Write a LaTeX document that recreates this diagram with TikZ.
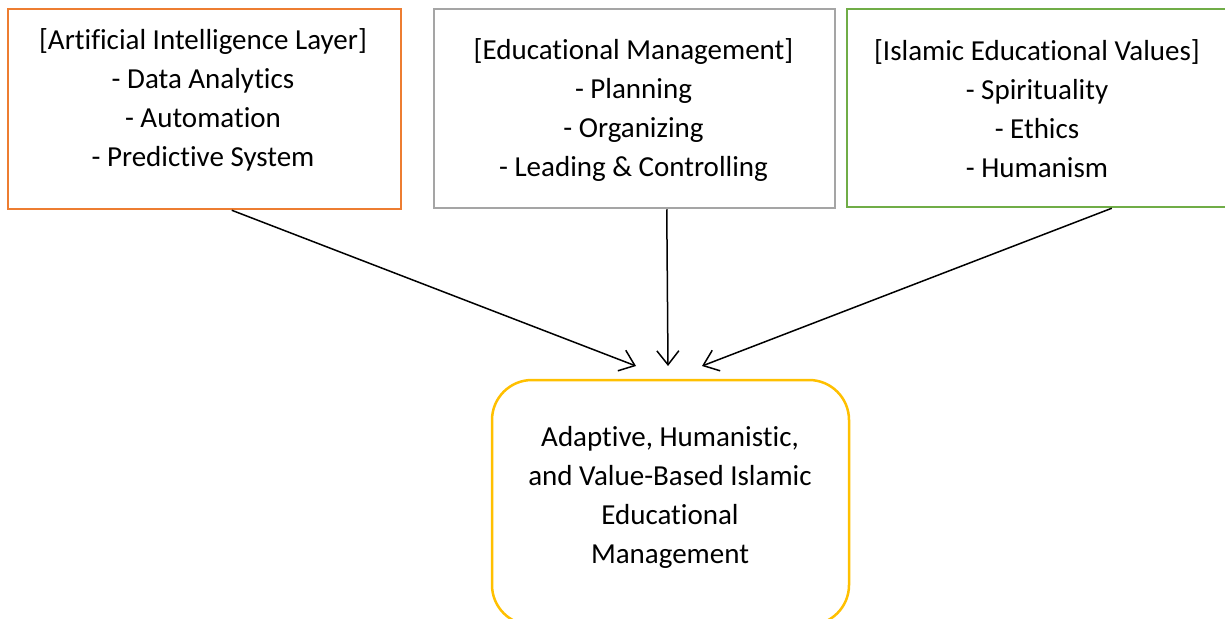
\documentclass[tikz,border=0pt]{standalone}
\usepackage{fontspec}
\setmainfont{Carlito}[Ligatures={NoCommon,NoRequired,NoContextual}]
\usetikzlibrary{arrows.meta,calc}
\definecolor{aiorange}{HTML}{ED7D31}
\definecolor{mggray}{HTML}{A5A5A5}
\definecolor{valgreen}{HTML}{70AD47}
\definecolor{resyellow}{HTML}{FFC000}
\begin{document}
\begin{tikzpicture}[x=1pt,y=-1pt,
  panel/.style={draw=#1,line width=2.5pt,inner sep=0pt},
  txt/.style={align=center,inner sep=0pt,font=\fontsize{29}{39}\selectfont},
  flow/.style={line width=1.5pt,-{Straight Barb[length=14pt,width=22pt,line width=1.5pt]}}]
  \useasboundingbox (0,0) rectangle (1225,618);
  \clip (0,0) rectangle (1225,618);
  \fill[white] (0,0) rectangle (1225,618);

  % three input panels
  \node[panel=aiorange,minimum width=393pt,minimum height=200pt] (ai) at (204.5,109) {};
  \node[panel=mggray,minimum width=401pt,minimum height=199pt] (mg) at (634.5,108.5) {};
  \node[panel=valgreen,minimum width=381pt,minimum height=198pt] (iv) at (1037.5,108) {};

  \node[txt] (aitxt) at (203,100) {[Artificial Intelligence Layer]\\- Data Analytics\\- Automation\\- Predictive System};
  \node[txt] (mgtxt) at (633.5,110) {[Educational Management]\\- Planning\\- Organizing\\- Leading \& Controlling};
  \node[txt] (ivtxt) at (1037,108.5) {[Islamic Educational Values]\\- Spirituality\\- Ethics\\- Humanism};

  % resulting concept
  \node[panel=resyellow,rounded corners=40pt,minimum width=357pt,minimum height=245pt] (res) at (670.5,502.5) {};
  \node[txt] (restxt) at (670,497) {Adaptive, Humanistic,\\and Value-Based Islamic\\Educational\\Management};

  % arrow tips above the result panel
  \coordinate (tipA) at (636,366);
  \coordinate (tipB) at (668,366);
  \coordinate (tipC) at (702,366);

  \draw[flow] ($(ai.south west)+(225,0)$) -- (tipA);
  \draw[flow] ($(mg.south west)+(234,0)$) -- (tipB);
  \draw[flow] ($(iv.south west)+(266,0)$) -- (tipC);
\end{tikzpicture}
\end{document}
